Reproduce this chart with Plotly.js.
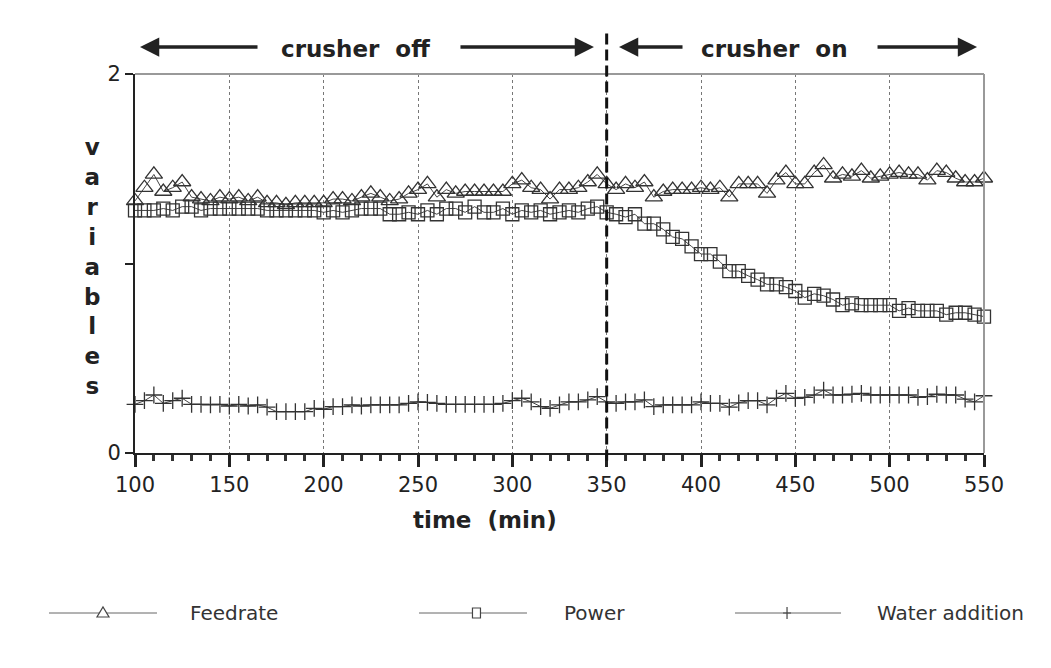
<!DOCTYPE html>
<html>
<head>
<meta charset="utf-8">
<script src="https://cdn.plot.ly/plotly-3.0.1.min.js"></script>
<style>html,body{margin:0;padding:0;background:#fff;}#chart{width:1051px;height:668px;}</style>
</head>
<body>
<div id="chart"></div>
<script>
// ---- data ----
const timeMin = [100,105,110,115,120,125,130,135,140,145,150,155,160,165,170,175,180,185,190,195,
  200,205,210,215,220,225,230,235,240,245,250,255,260,265,270,275,280,285,290,295,
  300,305,310,315,320,325,330,335,340,345,350,355,360,365,370,375,380,385,390,395,
  400,405,410,415,420,425,430,435,440,445,450,455,460,465,470,475,480,485,490,495,
  500,505,510,515,520,525,530,535,540,545,550];

const feedrate = [1.33,1.40,1.47,1.38,1.40,1.43,1.35,1.34,1.33,1.35,1.34,1.35,1.33,1.35,1.32,1.32,1.31,1.32,1.32,1.32,
  1.32,1.34,1.34,1.33,1.35,1.37,1.35,1.33,1.34,1.37,1.39,1.42,1.35,1.39,1.37,1.38,1.38,1.38,1.38,1.38,
  1.42,1.44,1.40,1.39,1.34,1.39,1.39,1.40,1.43,1.47,1.42,1.39,1.42,1.40,1.43,1.35,1.38,1.39,1.39,1.39,
  1.40,1.39,1.40,1.35,1.42,1.42,1.42,1.37,1.44,1.48,1.42,1.42,1.48,1.52,1.45,1.47,1.46,1.49,1.45,1.46,
  1.47,1.48,1.47,1.47,1.44,1.49,1.48,1.45,1.43,1.43,1.45];

const power = [1.28,1.28,1.28,1.29,1.28,1.30,1.30,1.28,1.29,1.29,1.29,1.29,1.29,1.29,1.28,1.28,1.28,1.28,1.28,1.28,
  1.27,1.28,1.27,1.28,1.29,1.29,1.29,1.26,1.26,1.27,1.26,1.28,1.26,1.29,1.29,1.27,1.30,1.27,1.27,1.29,
  1.26,1.28,1.27,1.28,1.26,1.27,1.28,1.27,1.29,1.30,1.27,1.26,1.245,1.26,1.21,1.21,1.18,1.14,1.13,1.09,
  1.05,1.05,1.01,0.96,0.96,0.935,0.915,0.89,0.89,0.875,0.855,0.82,0.84,0.83,0.81,0.78,0.79,0.78,0.78,0.78,
  0.78,0.75,0.765,0.75,0.75,0.75,0.73,0.74,0.74,0.73,0.72];

const waterAddition = [0.257,0.276,0.306,0.262,0.276,0.289,0.257,0.257,0.254,0.257,0.248,0.257,0.248,0.254,0.242,0.218,0.218,0.218,0.218,0.236,
  0.231,0.245,0.245,0.254,0.248,0.254,0.254,0.254,0.254,0.262,0.270,0.267,0.262,0.257,0.257,0.257,0.257,0.257,0.257,0.262,
  0.276,0.289,0.270,0.245,0.236,0.254,0.270,0.270,0.280,0.298,0.270,0.262,0.270,0.270,0.280,0.245,0.254,0.254,0.254,0.254,
  0.270,0.262,0.262,0.242,0.265,0.276,0.276,0.254,0.289,0.315,0.289,0.294,0.306,0.332,0.306,0.306,0.310,0.315,0.306,0.306,
  0.306,0.306,0.306,0.294,0.298,0.310,0.306,0.306,0.284,0.270,0.302];

const seriesNames = ["Feedrate", "Power", "Water addition"];
const xTickVals = [100,150,200,250,300,350,400,450,500,550];
const yTickVals = [0, 1, 2];
const yTickText = ["0", "", "2"];
const crusherOnTime = 350;
const phaseLabels = ["crusher\u00a0\u00a0off", "crusher\u00a0\u00a0on"];

// ---- figure ----
const lineCol = '#444';
const mk = (sym, size) => ({symbol: sym, size: size, color: '#333', line: {color: '#333', width: 1.3}});

const traces = [
  {x: timeMin, y: feedrate, name: seriesNames[0], type: 'scatter', mode: 'lines+markers',
   line: {color: lineCol, width: 1}, marker: mk('triangle-up-open', 15), cliponaxis: false},
  {x: timeMin, y: power, name: seriesNames[1], type: 'scatter', mode: 'lines+markers',
   line: {color: lineCol, width: 1}, marker: mk('square-open', 13), cliponaxis: false},
  {x: timeMin, y: waterAddition, name: seriesNames[2], type: 'scatter', mode: 'lines+markers',
   line: {color: lineCol, width: 1}, marker: mk('cross-thin-open', 12), cliponaxis: false}
];

const F = 'DejaVu Sans, Liberation Sans, Arial, sans-serif';
const legY = -0.4222;
const legendDefs = [
  {x0: -0.1013, x1: 0.0259, xm: -0.0377, tx: 0.0624, path: 'M-6,-4 L6,-4 L0,6 Z'},
  {x0: 0.3345, x1: 0.4617, xm: 0.4022, tx: 0.5029, path: 'M-4,-5 L4,-5 L4,5 L-4,5 Z'},
  {x0: 0.7067, x1: 0.8316, xm: 0.768, tx: 0.8716, path: 'M0,-6 L0,6 M-4,0 L4,0'}
];

const shapes = [
  // top and right frame
  {type: 'line', xref: 'paper', yref: 'paper', x0: 0, x1: 1, y0: 1, y1: 1, line: {color: '#999', width: 2}},
  {type: 'line', xref: 'paper', yref: 'paper', x0: 1, x1: 1, y0: 0, y1: 1, line: {color: '#999', width: 2}},
  // crusher-on divider
  {type: 'line', xref: 'x', yref: 'paper', x0: crusherOnTime, x1: crusherOnTime, y0: -0.02, y1: 1.119,
   line: {color: '#111', width: 3, dash: '11px,5px'}}
];
legendDefs.forEach(d => {
  shapes.push({type: 'line', xref: 'paper', yref: 'paper', x0: d.x0, x1: d.x1, y0: legY, y1: legY,
               line: {color: '#666', width: 1}});
  shapes.push({type: 'path', xref: 'paper', yref: 'paper', xsizemode: 'pixel', ysizemode: 'pixel',
               xanchor: d.xm, yanchor: legY, path: d.path, fillcolor: '#fff',
               line: {color: '#444', width: 1.2}});
});

const annotations = [
  // y title (stacked letters)
  {xref: 'paper', yref: 'paper', x: -0.0506, y: 0.492, xanchor: 'center', yanchor: 'middle',
   text: 'v<br>a<br>r<br>i<br>a<br>b<br>l<br>e<br>s', showarrow: false,
   font: {family: F, size: 23, color: '#222', weight: 'bold'}},
  // x title
  {xref: 'paper', yref: 'paper', x: 0.412, y: -0.1768, xanchor: 'center', yanchor: 'middle',
   text: 'time\u00a0\u00a0(min)', showarrow: false, font: {family: F, size: 23, color: '#222', weight: 'bold'}},
  // phase labels
  {xref: 'paper', yref: 'paper', x: 0.2603, y: 1.066, xanchor: 'center', yanchor: 'middle',
   text: phaseLabels[0], showarrow: false, font: {family: F, size: 23, color: '#222', weight: 'bold'}},
  {xref: 'paper', yref: 'paper', x: 0.7538, y: 1.066, xanchor: 'center', yanchor: 'middle',
   text: phaseLabels[1], showarrow: false, font: {family: F, size: 23, color: '#222', weight: 'bold'}}
];
// arrows: [tip position (paper), tail offset in px]
const arrowDefs = [[0.0059, 119], [0.5406, -135], [0.5701, 65], [0.9918, -101]];
arrowDefs.forEach(a => {
  annotations.push({xref: 'paper', yref: 'paper', x: a[0], y: 1.0712, ax: a[1], ay: 0, text: '',
    showarrow: true, arrowhead: 2, arrowsize: 1.1, arrowwidth: 3.5, arrowcolor: '#222'});
});
legendDefs.forEach((d, i) => {
  annotations.push({xref: 'paper', yref: 'paper', x: d.tx, y: legY, xanchor: 'left', yanchor: 'middle',
    text: seriesNames[i], showarrow: false, font: {family: F, size: 20, color: '#333'}});
});

const layout = {
  width: 1051, height: 668,
  margin: {l: 135, r: 67, t: 74, b: 215},
  paper_bgcolor: '#fff', plot_bgcolor: '#fff',
  showlegend: false,
  font: {family: F, color: '#222'},
  xaxis: {
    range: [100, 550], tickmode: 'array', tickvals: xTickVals,
    showline: true, linecolor: '#222', linewidth: 2, mirror: false,
    ticks: 'outside', ticklen: 12, tickwidth: 3, tickcolor: '#222',
    tickfont: {family: F, size: 21, color: '#222'},
    showgrid: true, gridcolor: '#777', gridwidth: 1, griddash: 'dot',
    zeroline: false,
    minor: {dtick: 10, tick0: 100, ticks: 'outside', ticklen: 6, tickwidth: 3, tickcolor: '#333', showgrid: false}
  },
  yaxis: {
    range: [0, 2], tickmode: 'array', tickvals: yTickVals, ticktext: yTickText,
    showline: true, linecolor: '#222', linewidth: 2, mirror: false,
    ticks: 'outside', ticklen: 8, tickwidth: 2, tickcolor: '#222',
    tickfont: {family: F, size: 21, color: '#222'},
    showgrid: false, zeroline: false
  },
  shapes: shapes,
  annotations: annotations
};

Plotly.newPlot('chart', traces, layout, {displayModeBar: false, staticPlot: true});
</script>
</body>
</html>
